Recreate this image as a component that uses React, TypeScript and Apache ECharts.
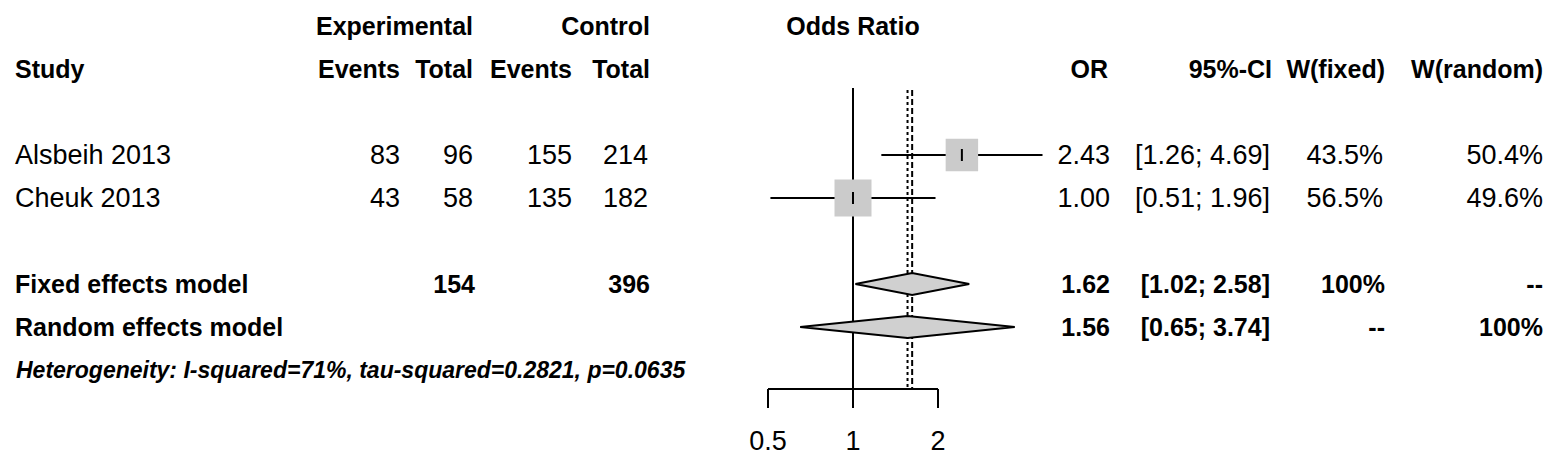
import React, { useEffect, useRef } from "react";
import * as echarts from "echarts";

// ---------- data ----------
const studies = ["Alsbeih 2013", "Cheuk 2013"];
const expEvents = [83, 43];
const expTotal = [96, 58];
const ctrlEvents = [155, 135];
const ctrlTotal = [214, 182];
const orValues = [2.43, 1.0];
const ciLower = [1.26, 0.51];
const ciUpper = [4.69, 1.96];
const wFixed = [43.5, 56.5];
const wRandom = [50.4, 49.6];

const modelNames = ["Fixed effects model", "Random effects model"];
const modelOR = [1.62, 1.56];
const modelLower = [1.02, 0.65];
const modelUpper = [2.58, 3.74];
const modelWFixed = ["100%", "--"];
const modelWRandom = ["--", "100%"];
const expTotalSum = 154;
const ctrlTotalSum = 396;

const xTicks = [0.5, 1, 2];
const heterogeneity = "Heterogeneity: I-squared=71%, tau-squared=0.2821, p=0.0635";

// ---------- layout ----------
const W = 1559;
const H = 464;
const ROW0 = 155;
const ROW_H = 43;
const rowY = (r: number) => ROW0 + ROW_H * r;
const GRID_LEFT = 683;
const GRID_WIDTH = 425;
const AXIS_Y = 389;
const TICK_LEN = 19;
const REF_TOP = 88;
const BOX_MAX = 37;
const DIAMOND_HALF = 11;
const LW = 2;

const FONT = '"Liberation Sans", Arial, sans-serif';
const REG = `27px ${FONT}`;
const BOLD = `bold 25px ${FONT}`;

export default function App() {
  const ref = useRef<HTMLDivElement>(null);

  useEffect(() => {
    const chart = echarts.init(ref.current!, null, { renderer: "svg" });
    const maxW = Math.max(...wFixed);

    const txt = (text: string, x: number, y: number, align: string, font: string) => ({
      type: "text",
      x: 0,
      y: 0,
      silent: true,
      style: {
        text,
        x,
        y,
        font,
        fill: "#000",
        align,
        verticalAlign: "middle",
        textAlign: align,
        textVerticalAlign: "middle",
      },
    });

    const texts: any[] = [];
    // headers
    texts.push(txt("Experimental", 473, rowY(-3), "right", BOLD));
    texts.push(txt("Control", 650, rowY(-3), "right", BOLD));
    texts.push(txt("Odds Ratio", 853, rowY(-3), "center", BOLD));
    texts.push(txt("Study", 15, rowY(-2), "left", BOLD));
    texts.push(txt("Events", 400, rowY(-2), "right", BOLD));
    texts.push(txt("Total", 473, rowY(-2), "right", BOLD));
    texts.push(txt("Events", 572, rowY(-2), "right", BOLD));
    texts.push(txt("Total", 650, rowY(-2), "right", BOLD));
    texts.push(txt("OR", 1108, rowY(-2), "right", BOLD));
    texts.push(txt("95%-CI", 1272, rowY(-2), "right", BOLD));
    texts.push(txt("W(fixed)", 1385, rowY(-2), "right", BOLD));
    texts.push(txt("W(random)", 1543, rowY(-2), "right", BOLD));

    studies.forEach((s, i) => {
      const y = rowY(i);
      texts.push(txt(s, 15, y, "left", REG));
      texts.push(txt(String(expEvents[i]), 400, y, "right", REG));
      texts.push(txt(String(expTotal[i]), 473, y, "right", REG));
      texts.push(txt(String(ctrlEvents[i]), 572, y, "right", REG));
      texts.push(txt(String(ctrlTotal[i]), 648, y, "right", REG));
      texts.push(txt(orValues[i].toFixed(2), 1110, y, "right", REG));
      texts.push(
        txt(`[${ciLower[i].toFixed(2)}; ${ciUpper[i].toFixed(2)}]`, 1270, y, "right", REG)
      );
      texts.push(txt(`${wFixed[i].toFixed(1)}%`, 1383, y, "right", REG));
      texts.push(txt(`${wRandom[i].toFixed(1)}%`, 1543, y, "right", REG));
    });

    modelNames.forEach((m, i) => {
      const y = rowY(3 + i);
      texts.push(txt(m, 15, y, "left", BOLD));
      if (i === 0) {
        texts.push(txt(String(expTotalSum), 475, y, "right", BOLD));
        texts.push(txt(String(ctrlTotalSum), 650, y, "right", BOLD));
      }
      texts.push(txt(modelOR[i].toFixed(2), 1110, y, "right", BOLD));
      texts.push(
        txt(`[${modelLower[i].toFixed(2)}; ${modelUpper[i].toFixed(2)}]`, 1270, y, "right", BOLD)
      );
      texts.push(txt(modelWFixed[i], 1385, y, "right", BOLD));
      texts.push(txt(modelWRandom[i], 1543, y, "right", BOLD));
    });

    texts.push(txt(heterogeneity, 16, rowY(5), "left", `italic bold 23px ${FONT}`));

    const refLines = [1, modelOR[0], modelOR[1]];
    const refDash: any[] = [null, [6, 3], [3, 3]];

    const option: any = {
      animation: false,
      backgroundColor: "#fff",
      grid: { left: GRID_LEFT, width: GRID_WIDTH, top: 0, height: H },
      xAxis: { type: "log", logBase: 2, min: 0.25, max: 8, show: false },
      yAxis: {
        type: "value",
        inverse: true,
        min: -ROW0 / ROW_H,
        max: (H - ROW0) / ROW_H,
        show: false,
      },
      graphic: { elements: texts },
      series: [
        {
          type: "custom",
          name: "reference",
          encode: { x: 0, y: 1 },
          data: refLines.map((v, i) => [v, i]),
          renderItem: (params: any, api: any) => {
            const i = params.dataIndex;
            const x = api.coord([api.value(0), 0])[0];
            const bottom = i === 0 ? AXIS_Y + TICK_LEN : AXIS_Y;
            const top = i === 0 ? REF_TOP : REF_TOP + 2;
            return {
              type: "line",
              shape: { x1: x, y1: top, x2: x, y2: bottom },
              style: { stroke: "#000", lineWidth: LW, lineDash: refDash[i] || undefined },
            };
          },
        },
        {
          type: "custom",
          name: "axis",
          encode: { x: [0, 1], y: 2 },
          data: [[xTicks[0], xTicks[xTicks.length - 1], 0]],
          renderItem: (params: any, api: any) => {
            const a = api.coord([api.value(0), 0])[0];
            const b = api.coord([api.value(1), 0])[0];
            return {
              type: "line",
              shape: { x1: a, y1: AXIS_Y, x2: b, y2: AXIS_Y },
              style: { stroke: "#000", lineWidth: LW },
            };
          },
        },
        {
          type: "custom",
          name: "ticks",
          encode: { x: 0, y: 1 },
          data: xTicks.map((t) => [t, 0]),
          renderItem: (params: any, api: any) => {
            const x = api.coord([api.value(0), 0])[0];
            const v = api.value(0);
            return {
              type: "group",
              children: [
                {
                  type: "line",
                  shape: { x1: x, y1: AXIS_Y, x2: x, y2: AXIS_Y + TICK_LEN },
                  style: { stroke: "#000", lineWidth: LW },
                },
                {
                  type: "text",
                  style: {
                    text: String(v),
                    x,
                    y: AXIS_Y + 52,
                    font: `27px ${FONT}`,
                    fill: "#000",
                    align: "center",
                    verticalAlign: "middle",
                    textAlign: "center",
                    textVerticalAlign: "middle",
                  },
                },
              ],
            };
          },
        },
        {
          type: "custom",
          name: "studies",
          encode: { x: [0, 2, 3], y: 1 },
          data: studies.map((s, i) => [orValues[i], i, ciLower[i], ciUpper[i], wFixed[i]]),
          renderItem: (params: any, api: any) => {
            const r = api.value(1);
            const c = api.coord([api.value(0), r]);
            const lo = api.coord([api.value(2), r]);
            const hi = api.coord([api.value(3), r]);
            const size = BOX_MAX * Math.sqrt(api.value(4) / maxW);
            return {
              type: "group",
              children: [
                {
                  type: "line",
                  shape: { x1: lo[0], y1: c[1], x2: hi[0], y2: c[1] },
                  style: { stroke: "#000", lineWidth: LW },
                },
                {
                  type: "rect",
                  shape: { x: c[0] - size / 2, y: c[1] - size / 2, width: size, height: size },
                  style: { fill: "#cbcbcb" },
                },
                {
                  type: "line",
                  shape: { x1: c[0], y1: c[1] - 6, x2: c[0], y2: c[1] + 6 },
                  style: { stroke: "#000", lineWidth: LW },
                },
              ],
            };
          },
        },
        {
          type: "custom",
          name: "models",
          encode: { x: [0, 2, 3], y: 1 },
          data: modelNames.map((m, i) => [modelOR[i], 3 + i, modelLower[i], modelUpper[i]]),
          renderItem: (params: any, api: any) => {
            const r = api.value(1);
            const c = api.coord([api.value(0), r]);
            const lo = api.coord([api.value(2), r]);
            const hi = api.coord([api.value(3), r]);
            return {
              type: "polygon",
              shape: {
                points: [
                  [lo[0], c[1]],
                  [c[0], c[1] - DIAMOND_HALF],
                  [hi[0], c[1]],
                  [c[0], c[1] + DIAMOND_HALF],
                ],
              },
              style: { fill: "#d0d0d0", stroke: "#000", lineWidth: LW },
            };
          },
        },
      ],
    };

    chart.setOption(option);
    return () => chart.dispose();
  }, []);

  return (
    <div
      ref={ref}
      style={{ position: "fixed", left: 0, top: 0, width: W, height: H, background: "#fff" }}
    />
  );
}
